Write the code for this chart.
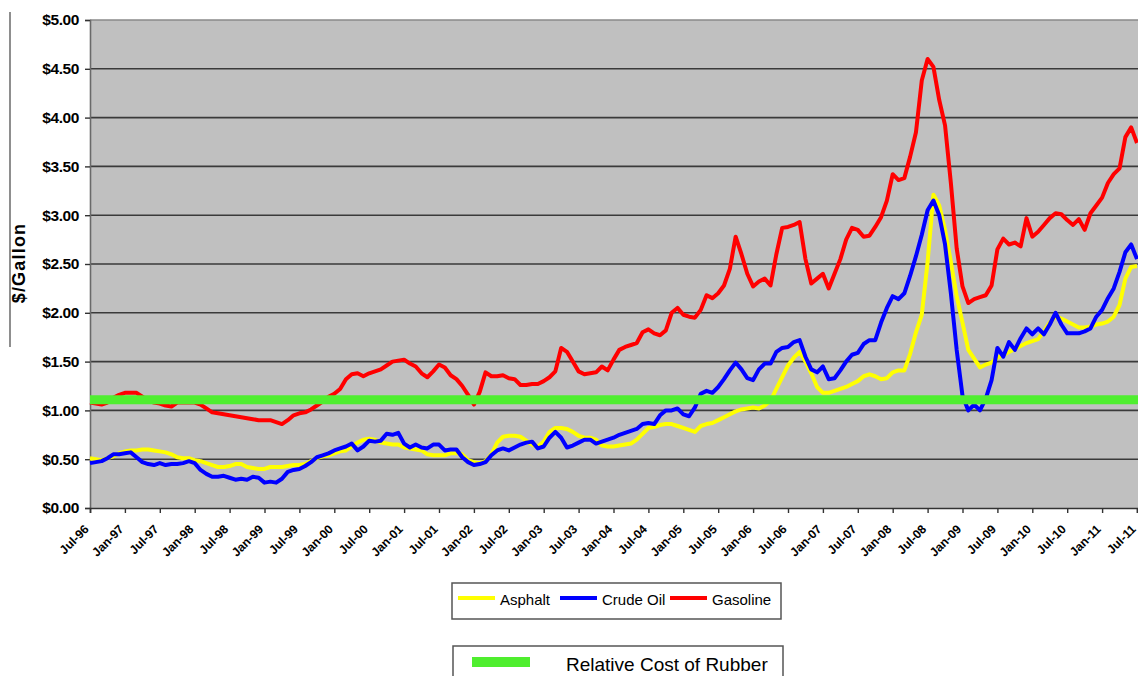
<!DOCTYPE html>
<html>
<head>
<meta charset="utf-8">
<script src="https://cdn.jsdelivr.net/npm/d3@7"></script>
<style>
    body { margin: 0; background: #ffffff; }
    svg { display: block; font-family: 'Liberation Sans', Arial, sans-serif; }
</style>
</head>
<body>
<div id="container"></div>
<script>
// monthly prices, $/gallon, Jul-96 .. Jul-11 (one row per year, starting in July)
var asphalt = [
    0.51, 0.50, 0.49, 0.51, 0.53, 0.56, 0.58, 0.59, 0.59, 0.60, 0.60, 0.59,
    0.58, 0.57, 0.55, 0.52, 0.51, 0.51, 0.49, 0.48, 0.46, 0.44, 0.42, 0.42,
    0.43, 0.45, 0.45, 0.42, 0.41, 0.40, 0.40, 0.42, 0.42, 0.42, 0.43, 0.44,
    0.44, 0.45, 0.48, 0.51, 0.53, 0.54, 0.56, 0.58, 0.59, 0.63, 0.67, 0.70,
    0.71, 0.70, 0.67, 0.66, 0.65, 0.65, 0.62, 0.61, 0.60, 0.59, 0.55, 0.54,
    0.54, 0.54, 0.56, 0.56, 0.55, 0.49, 0.47, 0.46, 0.48, 0.55, 0.67, 0.73,
    0.74, 0.74, 0.73, 0.69, 0.65, 0.63, 0.68, 0.78, 0.82, 0.82, 0.81, 0.78,
    0.74, 0.72, 0.72, 0.70, 0.64, 0.63, 0.63, 0.64, 0.65, 0.66, 0.70, 0.76,
    0.82, 0.83, 0.85, 0.86, 0.86, 0.84, 0.82, 0.80, 0.78, 0.84, 0.86, 0.87,
    0.90, 0.93, 0.96, 0.99, 1.01, 1.02, 1.03, 1.02, 1.05, 1.10, 1.22, 1.34,
    1.46, 1.54, 1.60, 1.50, 1.38, 1.24, 1.18, 1.18, 1.20, 1.22, 1.24, 1.27,
    1.30, 1.35, 1.37, 1.35, 1.32, 1.33, 1.39, 1.41, 1.41, 1.58, 1.80, 1.98,
    2.52, 3.21, 3.10, 2.85, 2.52, 2.17, 1.90, 1.62, 1.53, 1.44, 1.47, 1.49,
    1.54, 1.57, 1.60, 1.63, 1.66, 1.69, 1.71, 1.73, 1.81, 1.90, 1.96, 1.94,
    1.91, 1.88, 1.85, 1.85, 1.86, 1.88, 1.89, 1.91, 1.96, 2.08, 2.35, 2.47,
    2.48
]

var crudeOil = [
    0.46, 0.47, 0.48, 0.51, 0.55, 0.55, 0.56, 0.57, 0.52, 0.47, 0.45, 0.44,
    0.46, 0.44, 0.45, 0.45, 0.46, 0.48, 0.46, 0.39, 0.35, 0.32, 0.32, 0.33,
    0.31, 0.29, 0.30, 0.29, 0.32, 0.31, 0.26, 0.27, 0.26, 0.30, 0.37, 0.39,
    0.40, 0.43, 0.47, 0.52, 0.54, 0.56, 0.59, 0.61, 0.63, 0.66, 0.59, 0.63,
    0.69, 0.68, 0.69, 0.76, 0.75, 0.77, 0.66, 0.62, 0.65, 0.62, 0.61, 0.65,
    0.65, 0.59, 0.60, 0.60, 0.52, 0.47, 0.44, 0.45, 0.47, 0.54, 0.59, 0.61,
    0.59, 0.62, 0.65, 0.67, 0.68, 0.61, 0.63, 0.72, 0.78, 0.72, 0.62, 0.64,
    0.67, 0.70, 0.70, 0.66, 0.68, 0.70, 0.72, 0.75, 0.77, 0.79, 0.81, 0.86,
    0.87, 0.86, 0.95, 1.00, 1.00, 1.02, 0.96, 0.94, 1.03, 1.17, 1.20, 1.18,
    1.24, 1.32, 1.41, 1.49, 1.42, 1.33, 1.31, 1.42, 1.48, 1.48, 1.60, 1.64,
    1.65, 1.70, 1.72, 1.55, 1.42, 1.39, 1.45, 1.32, 1.33, 1.41, 1.50, 1.57,
    1.59, 1.68, 1.72, 1.72, 1.90, 2.05, 2.17, 2.14, 2.20, 2.38, 2.58, 2.80,
    3.05, 3.15, 3.00, 2.70, 2.20, 1.62, 1.15, 1.00, 1.06, 1.00, 1.12, 1.31,
    1.64, 1.55, 1.70, 1.62, 1.74, 1.84, 1.78, 1.84, 1.78, 1.88, 2.00, 1.88,
    1.79, 1.79, 1.79, 1.81, 1.84, 1.96, 2.03, 2.15, 2.25, 2.42, 2.62, 2.70,
    2.55
]

var gasoline = [
    1.08, 1.07, 1.06, 1.08, 1.13, 1.16, 1.18, 1.18, 1.18, 1.14, 1.10, 1.08,
    1.07, 1.05, 1.04, 1.08, 1.08, 1.08, 1.08, 1.06, 1.02, 0.98, 0.97, 0.96,
    0.95, 0.94, 0.93, 0.92, 0.91, 0.90, 0.90, 0.90, 0.88, 0.86, 0.90, 0.95,
    0.97, 0.98, 1.01, 1.05, 1.09, 1.14, 1.17, 1.22, 1.32, 1.37, 1.38, 1.35,
    1.38, 1.40, 1.42, 1.46, 1.50, 1.51, 1.52, 1.48, 1.45, 1.38, 1.34, 1.40,
    1.47, 1.44, 1.36, 1.32, 1.25, 1.16, 1.06, 1.19, 1.39, 1.35, 1.35, 1.36,
    1.33, 1.32, 1.26, 1.26, 1.27, 1.27, 1.30, 1.34, 1.40, 1.64, 1.60, 1.50,
    1.40, 1.37, 1.38, 1.39, 1.45, 1.41, 1.52, 1.62, 1.65, 1.67, 1.69, 1.80,
    1.83, 1.79, 1.77, 1.82, 2.00, 2.05, 1.98, 1.96, 1.95, 2.03, 2.18, 2.15,
    2.20, 2.28, 2.45, 2.78, 2.60, 2.40, 2.27, 2.32, 2.35, 2.28, 2.60, 2.87,
    2.88, 2.90, 2.93, 2.55, 2.30, 2.35, 2.40, 2.25, 2.40, 2.55, 2.75, 2.87,
    2.85, 2.78, 2.79, 2.88, 2.98, 3.15, 3.42, 3.36, 3.38, 3.60, 3.85, 4.38,
    4.60, 4.52, 4.18, 3.92, 3.33, 2.66, 2.27, 2.10, 2.14, 2.16, 2.18, 2.28,
    2.65, 2.76, 2.70, 2.72, 2.68, 2.97, 2.78, 2.83, 2.90, 2.97, 3.02, 3.01,
    2.95, 2.90, 2.96, 2.85, 3.02, 3.10, 3.18, 3.33, 3.42, 3.48, 3.80, 3.90,
    3.74
]

// relative cost of rubber, flat $/gallon equivalent
var rubberCost = 1.11

// x axis labels, one every six months
var tickLabels = [
    'Jul-96', 'Jan-97', 'Jul-97', 'Jan-98', 'Jul-98', 'Jan-99', 'Jul-99',
    'Jan-00', 'Jul-00', 'Jan-01', 'Jul-01', 'Jan-02', 'Jul-02', 'Jan-03',
    'Jul-03', 'Jan-04', 'Jul-04', 'Jan-05', 'Jul-05', 'Jan-06', 'Jul-06',
    'Jan-07', 'Jul-07', 'Jan-08', 'Jul-08', 'Jan-09', 'Jul-09', 'Jan-10',
    'Jul-10', 'Jan-11', 'Jul-11'
]

var yTicks = [0, 0.5, 1, 1.5, 2, 2.5, 3, 3.5, 4, 4.5, 5]

var seriesNames = ['Asphalt', 'Crude Oil', 'Gasoline']
var seriesColors = ['#ffff00', '#0000ff', '#ff0000']
var series = [asphalt, crudeOil, gasoline]

// chart size
var W = 1138,
    H = 676
var plot = { left: 90, right: 1138, top: 20, bottom: 508 }

var svg = d3
    .select('#container')
    .append('svg')
    .attr('width', W)
    .attr('height', H)

var x = d3
    .scaleLinear()
    .domain([0, asphalt.length - 1])
    .range([plot.left, 1137])

var y = d3
    .scaleLinear()
    .domain([0, 5])
    .range([plot.bottom, plot.top])

// stray frame line on the far left
svg
    .append('line')
    .attr('x1', 10)
    .attr('x2', 10)
    .attr('y1', 12)
    .attr('y2', 347)
    .style('stroke', '#444')
    .style('stroke-width', 1.2)

// grey plot area
svg
    .append('rect')
    .attr('x', plot.left)
    .attr('y', plot.top)
    .attr('width', plot.right - plot.left)
    .attr('height', plot.bottom - plot.top)
    .style('fill', '#c0c0c0')

// gridlines
svg
    .append('g')
    .selectAll('line')
    .data(yTicks.filter(function(d) {
        return d > 0
    }))
    .enter()
    .append('line')
    .attr('x1', plot.left)
    .attr('x2', plot.right)
    .attr('y1', function(d) {
        return y(d)
    })
    .attr('y2', function(d) {
        return y(d)
    })
    .style('stroke', function(d) {
        return d == 5 ? '#8a8a8a' : '#3a3a3a'
    })
    .style('stroke-width', 1.6)

// y axis
var yAxis = svg
    .append('g')
    .attr('transform', 'translate(' + plot.left + ',0)')
    .call(
        d3
            .axisLeft(y)
            .tickValues(yTicks)
            .tickSize(5)
            .tickPadding(6)
            .tickFormat(d3.format('$.2f'))
    )
yAxis.select('.domain').style('stroke', '#6a6a6a').style('stroke-width', 1.6)
yAxis.selectAll('.tick line').style('stroke', '#333').style('stroke-width', 1.4)
yAxis
    .selectAll('.tick text')
    .style('font-size', '15.5px')
    .style('font-weight', 'bold')
    .style('letter-spacing', '-0.4px')
    .style('fill', '#000')

// x axis
var xAxis = svg
    .append('g')
    .attr('transform', 'translate(0,' + plot.bottom + ')')
    .call(
        d3
            .axisBottom(x)
            .tickValues(d3.range(0, asphalt.length, 6))
            .tickSize(5)
            .tickFormat(function(d, i) {
                return tickLabels[i]
            })
    )
xAxis.select('.domain').style('stroke', '#333').style('stroke-width', 1.6)
xAxis.selectAll('.tick line').style('stroke', '#333').style('stroke-width', 1.4)
xAxis
    .selectAll('.tick text')
    .attr('y', 0)
    .attr('dy', 0)
    .attr('transform', 'translate(-1,22) rotate(-45)')
    .attr('text-anchor', 'end')
    .style('font-size', '12.2px')
    .style('font-weight', 'bold')
    .style('fill', '#000')

// y axis title
svg
    .append('text')
    .attr('transform', 'translate(25,263) rotate(-90)')
    .attr('text-anchor', 'middle')
    .style('font-size', '18px')
    .style('font-weight', 'bold')
    .style('letter-spacing', '1.2px')
    .text('$/Gallon')

// price lines
var line = d3
    .line()
    .x(function(d, i) {
        return x(i)
    })
    .y(function(d) {
        return y(d)
    })

svg
    .append('g')
    .selectAll('path')
    .data(series)
    .enter()
    .append('path')
    .attr('d', line)
    .style('fill', 'none')
    .style('stroke', function(d, i) {
        return seriesColors[i]
    })
    .style('stroke-width', 4)
    .style('stroke-linejoin', 'round')

// rubber band drawn last, over the lines
svg
    .append('line')
    .attr('x1', plot.left)
    .attr('x2', plot.right)
    .attr('y1', y(rubberCost))
    .attr('y2', y(rubberCost))
    .style('stroke', '#4fee2f')
    .style('stroke-width', 9)

// legend for the three prices
var legend = svg.append('g')
legend
    .append('rect')
    .attr('x', 452)
    .attr('y', 583)
    .attr('width', 329)
    .attr('height', 36)
    .style('fill', '#fff')
    .style('stroke', '#555')
    .style('stroke-width', 1.5)

var legendX = [458, 560, 670]
var items = legend
    .selectAll('.item')
    .data(seriesNames)
    .enter()
    .append('g')
    .attr('class', 'item')
    .attr('transform', function(d, i) {
        return 'translate(' + legendX[i] + ',598)'
    })
items
    .append('line')
    .attr('x1', 0)
    .attr('x2', 37)
    .style('stroke', function(d, i) {
        return seriesColors[i]
    })
    .style('stroke-width', 4)
items
    .append('text')
    .attr('x', 42)
    .attr('y', 7)
    .style('font-size', '15px')
    .text(function(d) {
        return d
    })

// legend for rubber
var legend2 = svg.append('g')
legend2
    .append('rect')
    .attr('x', 453)
    .attr('y', 646)
    .attr('width', 330)
    .attr('height', 40)
    .style('fill', '#fff')
    .style('stroke', '#555')
    .style('stroke-width', 1.5)
legend2
    .append('rect')
    .attr('x', 472)
    .attr('y', 657)
    .attr('width', 58)
    .attr('height', 10)
    .style('fill', '#4fee2f')
legend2
    .append('text')
    .attr('x', 566)
    .attr('y', 671)
    .style('font-size', '19px')
    .text('Relative Cost of Rubber')
</script>
</body>
</html>
